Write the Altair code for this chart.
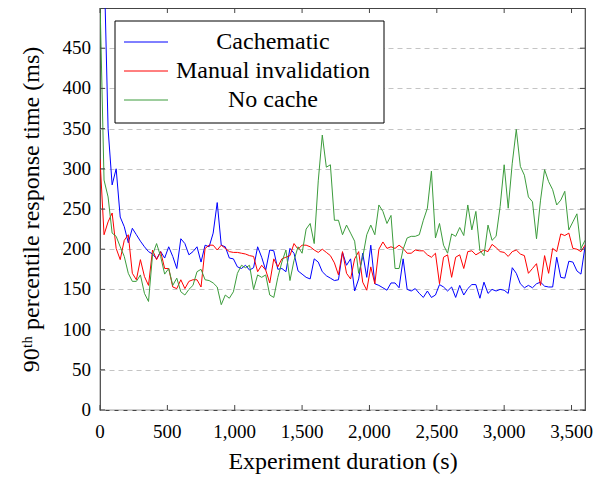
import altair as alt
import pandas as pd

times = list(range(0, 3601, 30))

cachematic = [900, 560, 350, 280, 300, 240, 228, 208, 226, 218, 210, 203, 197, 194, 188, 197,
              189, 203, 191, 176, 213, 207, 193, 197, 203, 184, 205, 203, 220, 258, 205, 203,
              189, 188, 178, 176, 180, 174, 177, 203, 190, 174, 199, 198, 175, 176, 172, 201,
              195, 173, 169, 165, 163, 188, 184, 172, 167, 164, 161, 162, 196, 180, 188, 148,
              163, 195, 165, 205, 157, 155, 152, 149, 158, 158, 152, 188, 150, 148, 151, 145,
              140, 148, 140, 143, 156, 153, 148, 153, 140, 155, 143, 151, 156, 156, 139, 159,
              145, 150, 148, 150, 149, 145, 177, 170, 157, 152, 155, 152, 157, 159, 154, 153,
              153, 190, 165, 164, 185, 184, 173, 169, 203]

manual = [312, 218, 234, 245, 201, 187, 211, 218, 170, 162, 187, 166, 155, 199, 187, 197,
          176, 176, 153, 151, 162, 151, 160, 162, 162, 153, 201, 205, 205, 199, 205, 201,
          197, 196, 196, 195, 194, 192, 191, 172, 180, 174, 158, 188, 178, 188, 190, 192,
          207, 200, 205, 205, 203, 199, 196, 200, 196, 192, 183, 168, 197, 170, 163, 188,
          197, 159, 149, 178, 157, 200, 209, 201, 203, 201, 205, 201, 195, 195, 199, 198,
          198, 193, 190, 195, 157, 190, 193, 165, 190, 193, 176, 197, 198, 193, 196, 199,
          197, 206, 202, 197, 196, 191, 197, 199, 194, 192, 170, 176, 182, 155, 192, 170,
          201, 197, 219, 217, 220, 201, 200, 197, 205]

nocache = [510, 286, 265, 220, 216, 203, 191, 170, 160, 160, 168, 145, 135, 193, 207, 191,
           169, 176, 155, 164, 147, 143, 150, 155, 172, 175, 162, 161, 158, 153, 131, 143,
           139, 147, 170, 180, 177, 180, 150, 168, 165, 168, 143, 140, 165, 184, 199, 161,
           186, 203, 195, 225, 232, 207, 285, 342, 302, 305, 236, 236, 218, 230, 220, 210,
           170, 190, 218, 230, 218, 255, 247, 232, 242, 176, 176, 200, 214, 216, 216, 218,
           236, 251, 297, 214, 232, 205, 195, 219, 216, 227, 217, 255, 224, 247, 198, 192,
           230, 211, 216, 253, 305, 251, 307, 349, 303, 292, 265, 259, 213, 261, 299, 284,
           274, 255, 261, 272, 224, 234, 244, 201, 211]

series_names = ["Cachematic", "Manual invalidation", "No cache"]
series_colors = ["#0000ff", "#ff0000", "#3c9c3c"]
x_ticks = [0, 500, 1000, 1500, 2000, 2500, 3000, 3500]
y_ticks = [0, 50, 100, 150, 200, 250, 300, 350, 400, 450]

rows = []
for k, (name, vals) in enumerate(zip(series_names, [cachematic, manual, nocache])):
    for t, v in zip(times, vals):
        rows.append({"t": t, "v": v, "series": name, "k": k})
df = pd.DataFrame(rows)

FONT = "Liberation Serif"
TICK = "#444444"
W, H = 485, 402
TL = 5
xscale = alt.Scale(domain=[0, 3600], nice=False, zero=False)
yscale = alt.Scale(domain=[0, 500], nice=False, zero=False)

x_axis = alt.Axis(
    title="Experiment duration (s)", values=x_ticks, orient="bottom",
    labels=False, ticks=False, domain=False, grid=False, titlePadding=39,
    titleFont=FONT, titleFontSize=24, titleFontWeight="normal", titleColor="black")
y_axis = alt.Axis(
    title="90ᵗʰ percentile response time (ms)", values=y_ticks, orient="left",
    labels=False, ticks=False, domain=False, grid=True, gridColor="#c4c4c4",
    gridDash=[5, 4], gridWidth=1, titlePadding=57,
    titleFont=FONT, titleFontSize=24, titleFontWeight="normal", titleColor="black")

lines = alt.Chart(df).mark_line(strokeWidth=1, clip=True).encode(
    x=alt.X("t:Q", scale=xscale, axis=x_axis),
    y=alt.Y("v:Q", scale=yscale, axis=y_axis),
    color=alt.Color("series:N", scale=alt.Scale(domain=series_names, range=series_colors),
                    legend=None),
    order=alt.Order("k:Q"),
)

xt = pd.DataFrame({"t": x_ticks, "lab": [f"{v:,}" for v in x_ticks]})
yt = pd.DataFrame({"v": y_ticks, "lab": [str(v) for v in y_ticks]})
tick_style = dict(color=TICK, strokeWidth=1)

bottom_ticks = alt.Chart(xt).mark_rule(**tick_style).encode(
    x=alt.X("t:Q", scale=xscale, axis=x_axis), y=alt.value(H), y2=alt.value(H - TL))
top_ticks = alt.Chart(xt).mark_rule(**tick_style).encode(
    x=alt.X("t:Q", scale=xscale, axis=x_axis), y=alt.value(0), y2=alt.value(TL))
left_ticks = alt.Chart(yt).mark_rule(**tick_style).encode(
    y=alt.Y("v:Q", scale=yscale, axis=y_axis), x=alt.value(0), x2=alt.value(TL))
right_ticks = alt.Chart(yt).mark_rule(**tick_style).encode(
    y=alt.Y("v:Q", scale=yscale, axis=y_axis), x=alt.value(W), x2=alt.value(W - TL))

text_style = dict(font=FONT, fontWeight="normal", fontStyle="normal", color="black")

x_labels = alt.Chart(xt).mark_text(
    fontSize=19, align="center", baseline="middle", **text_style
).encode(x=alt.X("t:Q", scale=xscale, axis=x_axis), y=alt.value(H + 22), text="lab:N")
y_labels = alt.Chart(yt).mark_text(
    fontSize=19, align="right", baseline="middle", **text_style
).encode(y=alt.Y("v:Q", scale=yscale, axis=y_axis), x=alt.value(-9), text="lab:N")

# legend drawn as marks
one = pd.DataFrame({"d": [0]})
legend_box = alt.Chart(one).mark_rect(fill="white", stroke="black", strokeWidth=1).encode(
    x=alt.value(15), x2=alt.value(284), y=alt.value(13), y2=alt.value(115))
legend_layers = [legend_box]
for i, (name, col) in enumerate(zip(series_names, series_colors)):
    ld = pd.DataFrame({"name": [name]})
    row_y = 34 + 29 * i
    legend_layers.append(alt.Chart(ld).mark_rule(color=col, strokeWidth=1).encode(
        x=alt.value(24), x2=alt.value(68), y=alt.value(row_y)))
    legend_layers.append(alt.Chart(ld).mark_text(
        fontSize=24, align="center", baseline="middle", **text_style
    ).encode(x=alt.value(173), y=alt.value(row_y), text="name:N"))

chart = alt.layer(
    lines, bottom_ticks, top_ticks, left_ticks, right_ticks, x_labels, y_labels,
    *legend_layers
).properties(
    width=W, height=H,
    autosize=alt.AutoSizeParams(type="none"),
    padding={"left": 92, "top": 0, "right": 17, "bottom": 70},
).configure_view(stroke="#444444", strokeWidth=1.2)

chart.save("out.html", embed_options={"renderer": "svg", "actions": False})
